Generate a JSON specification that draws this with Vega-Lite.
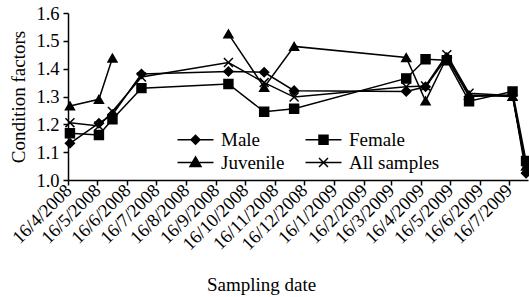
{
  "$schema": "https://vega.github.io/schema/vega-lite/v6.json",
  "width": 460,
  "height": 167,
  "autosize": {"type": "none"},
  "padding": {"left": 68, "top": 13, "right": 1, "bottom": 117},
  "background": "white",
  "config": {
    "font": "Liberation Serif",
    "view": {"stroke": null},
    "axis": {
      "grid": false,
      "domainColor": "black",
      "domainWidth": 1.5,
      "tickColor": "black",
      "tickWidth": 1.5,
      "tickSize": 5,
      "labelColor": "black",
      "labelFont": "Liberation Serif",
      "labelFontSize": 18.5,
      "titleColor": "black",
      "titleFont": "Liberation Serif",
      "titleFontSize": 19,
      "titleFontWeight": "normal"
    },
    "legend": {
      "labelFont": "Liberation Serif",
      "labelFontSize": 19,
      "labelColor": "black"
    }
  },
  "data": {
    "values": [
      {"date": "2008/04/18", "series": "Male", "value": 1.132},
      {"date": "2008/05/18", "series": "Male", "value": 1.204},
      {"date": "2008/06/01", "series": "Male", "value": 1.235},
      {"date": "2008/07/01", "series": "Male", "value": 1.381},
      {"date": "2008/09/29", "series": "Male", "value": 1.39},
      {"date": "2008/11/05", "series": "Male", "value": 1.387},
      {"date": "2008/12/06", "series": "Male", "value": 1.321},
      {"date": "2009/04/01", "series": "Male", "value": 1.318},
      {"date": "2009/04/21", "series": "Male", "value": 1.335},
      {"date": "2009/05/13", "series": "Male", "value": 1.44},
      {"date": "2009/06/05", "series": "Male", "value": 1.3},
      {"date": "2009/07/20", "series": "Male", "value": 1.305},
      {"date": "2009/08/03", "series": "Male", "value": 1.024},
      {"date": "2008/04/18", "series": "Female", "value": 1.168},
      {"date": "2008/05/18", "series": "Female", "value": 1.162},
      {"date": "2008/06/01", "series": "Female", "value": 1.218},
      {"date": "2008/07/01", "series": "Female", "value": 1.33},
      {"date": "2008/09/29", "series": "Female", "value": 1.345},
      {"date": "2008/11/05", "series": "Female", "value": 1.245},
      {"date": "2008/12/06", "series": "Female", "value": 1.256},
      {"date": "2009/04/01", "series": "Female", "value": 1.365},
      {"date": "2009/04/21", "series": "Female", "value": 1.434},
      {"date": "2009/05/13", "series": "Female", "value": 1.43},
      {"date": "2009/06/05", "series": "Female", "value": 1.283},
      {"date": "2009/07/20", "series": "Female", "value": 1.318},
      {"date": "2009/08/03", "series": "Female", "value": 1.068},
      {"date": "2008/04/18", "series": "Juvenile", "value": 1.266},
      {"date": "2008/05/18", "series": "Juvenile", "value": 1.29},
      {"date": "2008/06/01", "series": "Juvenile", "value": 1.438},
      {"date": "2008/07/01", "series": "Juvenile", "value": null},
      {"date": "2008/09/29", "series": "Juvenile", "value": 1.525},
      {"date": "2008/11/05", "series": "Juvenile", "value": 1.333},
      {"date": "2008/12/06", "series": "Juvenile", "value": 1.48},
      {"date": "2009/04/01", "series": "Juvenile", "value": 1.44},
      {"date": "2009/04/21", "series": "Juvenile", "value": 1.284},
      {"date": "2009/05/13", "series": "Juvenile", "value": 1.44},
      {"date": "2009/06/05", "series": "Juvenile", "value": 1.305},
      {"date": "2009/07/20", "series": "Juvenile", "value": 1.3},
      {"date": "2009/08/03", "series": "Juvenile", "value": 1.05},
      {"date": "2008/04/18", "series": "All samples", "value": 1.206},
      {"date": "2008/05/18", "series": "All samples", "value": 1.194},
      {"date": "2008/06/01", "series": "All samples", "value": 1.246},
      {"date": "2008/07/01", "series": "All samples", "value": 1.37},
      {"date": "2008/09/29", "series": "All samples", "value": 1.422},
      {"date": "2008/11/05", "series": "All samples", "value": 1.35},
      {"date": "2008/12/06", "series": "All samples", "value": 1.298},
      {"date": "2009/04/01", "series": "All samples", "value": 1.335},
      {"date": "2009/04/21", "series": "All samples", "value": 1.338},
      {"date": "2009/05/13", "series": "All samples", "value": 1.45},
      {"date": "2009/06/05", "series": "All samples", "value": 1.312},
      {"date": "2009/07/20", "series": "All samples", "value": 1.303},
      {"date": "2009/08/03", "series": "All samples", "value": 1.04}
    ]
  },
  "encoding": {
    "x": {
      "field": "date",
      "type": "temporal",
      "title": "Sampling date",
      "scale": {"domain": [{"year": 2008, "month": 4, "date": 16}, {"year": 2009, "month": 8, "date": 5}]},
      "axis": {
        "values": [
          {"year": 2008, "month": 4, "date": 16},
          {"year": 2008, "month": 5, "date": 16},
          {"year": 2008, "month": 6, "date": 16},
          {"year": 2008, "month": 7, "date": 16},
          {"year": 2008, "month": 8, "date": 16},
          {"year": 2008, "month": 9, "date": 16},
          {"year": 2008, "month": 10, "date": 16},
          {"year": 2008, "month": 11, "date": 16},
          {"year": 2008, "month": 12, "date": 16},
          {"year": 2009, "month": 1, "date": 16},
          {"year": 2009, "month": 2, "date": 16},
          {"year": 2009, "month": 3, "date": 16},
          {"year": 2009, "month": 4, "date": 16},
          {"year": 2009, "month": 5, "date": 16},
          {"year": 2009, "month": 6, "date": 16},
          {"year": 2009, "month": 7, "date": 16}
        ],
        "format": "%-d/%-m/%Y",
        "labelAngle": -45,
        "labelAlign": "right",
        "labelBaseline": "middle",
        "labelPadding": 2,
        "labelOverlap": false,
        "labelBound": false,
        "labelFlush": false,
        "labelFont": "Liberation Serif",
        "titleFont": "Liberation Serif",
        "titleX": 193,
        "titlePadding": 22,
        "titleAnchor": "middle",
        "titleAlign": "center"
      }
    },
    "y": {
      "field": "value",
      "type": "quantitative",
      "title": "Condition factors",
      "scale": {"domain": [1.0, 1.6], "nice": false, "zero": false},
      "axis": {
        "values": [1.0, 1.1, 1.2, 1.3, 1.4, 1.5, 1.6],
        "format": ".1f",
        "labelPadding": 4,
        "titlePadding": 7,
        "labelFlush": false,
        "labelOverlap": false,
        "labelFont": "Liberation Serif",
        "titleFont": "Liberation Serif"
      }
    }
  },
  "layer": [
    {
      "mark": {"type": "line", "color": "black", "strokeWidth": 1.5, "invalid": "break-paths-show-domains"},
      "encoding": {"detail": {"field": "series"}}
    },
    {
      "mark": {"type": "point", "filled": false, "stroke": "black", "strokeWidth": 1.5, "opacity": 0, "size": 100},
      "encoding": {
        "shape": {
          "field": "series",
          "title": null,
          "scale": {
            "domain": ["Male", "Female", "Juvenile", "All samples"],
            "range": [
              "M-3.6,0H3.6M0,-0.9L0.9,0L0,0.9L-0.9,0ZM0,-0.6L0.6,0L0,0.6L-0.6,0ZM0,-0.3L0.3,0L0,0.3L-0.3,0Z",
              "M-3.6,0H3.6M-0.9,-0.9H0.9V0.9H-0.9ZM-0.6,-0.6H0.6V0.6H-0.6ZM-0.3,-0.3H0.3V0.3H-0.3Z",
              "M-3.6,0H3.6M0,-1.1L1.1,0.8L-1.1,0.8ZM0,-0.73L0.73,0.6L-0.73,0.6ZM0,-0.4L0.4,0.4L-0.4,0.4ZM0,-0.1L0.12,0.2L-0.12,0.2Z",
              "M-3.6,0H3.6M-0.9,-0.9L0.9,0.9M-0.9,0.9L0.9,-0.9"
            ]
          },
          "legend": {
            "orient": "none",
            "legendX": 118,
            "legendY": 117,
            "columns": 2,
            "direction": "horizontal",
            "symbolSize": 100,
            "symbolOpacity": 1,
            "symbolStrokeColor": "black",
            "symbolStrokeWidth": 1.5,
            "labelFont": "Liberation Serif",
            "labelFontSize": 19,
            "labelColor": "black",
            "labelOffset": 16,
            "labelBaseline": "middle",
            "columnPadding": 17,
            "rowPadding": 3
          }
        }
      }
    },
    {
      "mark": {"type": "point", "filled": true, "fill": "black", "stroke": "black", "strokeWidth": 1.5, "opacity": 1, "size": 80},
      "encoding": {
        "shape": {
          "field": "series",
          "scale": {
            "domain": ["Male", "Female", "Juvenile", "All samples"],
            "range": ["diamond", "square", "triangle-up", "M-1,-1L1,1M-1,1L1,-1"]
          },
          "legend": null
        }
      }
    }
  ],
  "resolve": {"scale": {"shape": "independent"}}
}
